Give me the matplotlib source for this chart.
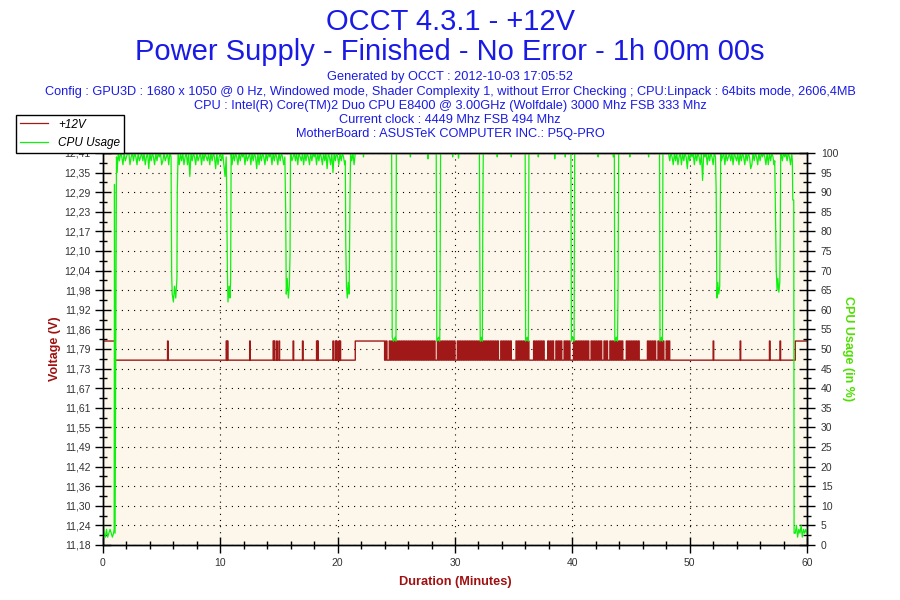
import numpy as np
import matplotlib
matplotlib.use("Agg")
import matplotlib.pyplot as plt
from matplotlib.lines import Line2D

# Report header
title_lines = ["OCCT 4.3.1 - +12V", "Power Supply - Finished - No Error - 1h 00m 00s"]
info_lines = [
    "Generated by OCCT : 2012-10-03 17:05:52",
    "Config : GPU3D : 1680 x 1050 @ 0 Hz, Windowed mode, Shader Complexity 1, without Error Checking ; CPU:Linpack : 64bits mode, 2606,4MB",
    "CPU : Intel(R) Core(TM)2 Duo CPU E8400 @ 3.00GHz (Wolfdale) 3000 Mhz FSB 333 Mhz",
    "Current clock : 4449 Mhz FSB 494 Mhz",
    "MotherBoard : ASUSTeK COMPUTER INC.: P5Q-PRO",
]

# Axis ticks
volt_ticklabels = ["11,18", "11,24", "11,30", "11,36", "11,42", "11,49", "11,55",
                   "11,61", "11,67", "11,73", "11,79", "11,86", "11,92", "11,98",
                   "12,04", "12,10", "12,17", "12,23", "12,29", "12,35", "12,41"]
volt_min, volt_max = 11.18, 12.41
cpu_ticks = list(range(0, 101, 5))
x_ticks = [0, 10, 20, 30, 40, 50, 60]

# +12V rail
volt_low, volt_high = 11.76, 11.82
volt_high_spans = [(0.0, 1.0), (21.5, 24.0), (59.0, 60.0)]
volt_spikes = [5.5, 10.5, 10.6, 12.5, 14.5, 14.6, 14.8, 15.0, 16.2, 17.0, 18.2, 18.3,
               19.6, 19.8, 19.9, 20.1, 20.2, 52.0, 54.3, 56.8, 57.7]
# state every 0.1 min while the rail toggles (H = 11.82, L = 11.76)
volt_dense_start = 24.0
volt_dense = ("LHLLHLHLHL" "HLHLHLHLHL" "HLHLHLHLHL" "HLHLHLHLHL" "HLHLLHLHLH"
              "LHLHLHLHLH" "LLHLHLHLHL" "HLHLHLHLHL" "HLHLHLHLHL" "HLHLHLHLLH"
              "LHLHLHLHLL" "LLHLHLHLHL" "HLHLLLLHLH" "LHLHLHLLLH" "LHLHLLHLHL"
              "HLLHLHLHLL" "LHLHLHLHLH" "LHLHLLHLHL" "HLHLHLLHLH" "LLHLHLHLHL"
              "HLHLLLHLHL" "HLHLHLHLLL" "LLLLHLHLHL" "HLLHLHLHLL" "HLH")

# CPU usage (%)
cpu_idle_start = [7, 3, 2, 4, 2, 3, 4, 3, 2, 3]          # 0.0 .. 0.9 min
cpu_ramp_t = [0.95, 0.98, 1.03, 1.15]
cpu_ramp_v = [4, 92, 3, 99]
# drop below 100 % every 0.1 min, '-' where a dip is drawn instead
cpu_noise_a_start = 1.2
cpu_noise_a = ("5020130210" "0310201302" "1020310402" "0130201032" "021030----"
               "---3020310" "3060201302" "1030201203" "0201403102" "036-----30"
               "2013020103" "0210302014" "0302013020" "1030201302" "013-----02"
               "1020301203" "0201302010" "3020130204" "0130502013" "02013-----"
               "203")
cpu_noise_c_start = 48.3
cpu_noise_c = ("2013020310" "3020140201" "0302013070" "103020130-" "----210302"
               "1020301203" "0201302014" "3020130201" "0130302013" "-----02010"
               "20130")
cpu_dip_t = [5.8, 5.85, 5.9, 6.0, 6.1, 6.2, 6.3, 6.33, 6.4,
             10.5, 10.54, 10.6, 10.65, 10.75, 10.82, 10.88, 10.92,
             15.5, 15.57, 15.62, 15.7, 15.8, 15.88, 15.94, 15.98,
             20.65, 20.69, 20.75, 20.82, 20.9, 20.98, 21.05, 21.1,
             24.6, 24.65, 24.75, 24.9, 24.97, 25.0,
             28.4, 28.45, 28.6, 28.7, 28.73, 28.77,
             32.08, 32.1, 32.15, 32.25, 32.33, 32.37, 32.41,
             35.98, 36.02, 36.15, 36.25, 36.3,
             39.88, 39.92, 40.05, 40.15, 40.2,
             43.58, 43.62, 43.75, 43.85, 43.9, 43.95,
             47.43, 47.47, 47.6, 47.68, 47.72,
             52.2, 52.26, 52.32, 52.4, 52.48, 52.56, 52.65,
             57.25, 57.32, 57.38, 57.45, 57.52, 57.6, 57.68, 57.72, 57.76]
cpu_dip_v = [99, 69, 64, 62, 66, 63, 68, 90, 100,
             99, 91, 70, 62, 66, 63, 68, 100,
             99, 85, 64, 68, 63, 66, 74, 100,
             98, 77, 66, 63, 67, 64, 88, 100,
             100, 53, 52, 53, 52, 100,
             100, 52, 53, 52, 67, 100,
             100, 82, 52, 53, 52, 84, 100,
             100, 52, 53, 52, 100,
             100, 52, 53, 52, 100,
             100, 52, 53, 52, 67, 100,
             100, 52, 53, 52, 100,
             99, 90, 63, 67, 64, 66, 100,
             98, 82, 70, 65, 68, 64.5, 67, 78, 100]
cpu_flat_t = [21.5, 48.2]
cpu_flat_v = [100, 100]
cpu_tick_t = [22.2, 26.2, 27.7, 29.8, 30.3, 33.6, 34.8, 37.1, 38.5, 39.4, 42.2, 43.5, 44.9, 46.5]
cpu_tick_v = [99, 99, 98.5, 99, 98.7, 99, 99, 99, 98.5, 99, 99, 99, 99, 99]
cpu_end_t = [58.75, 58.79, 58.87, 58.9]
cpu_end_v = [98, 88, 88, 3]
cpu_idle_end = [3, 5, 2, 4, 3, 5, 2, 4, 3, 4, 3]        # 59.0 .. 60.0 min

volt_colour = "#a01818"
cpu_colour = "#10f010"
text_blue = "#1a1ae6"
plt.rcParams["font.family"] = ["Liberation Sans", "DejaVu Sans"]

# --- voltage series on a 0.05 min grid
step = 0.05
vt = np.round(np.arange(int(60 / step) + 1) * step, 2)
vv = np.full(vt.shape, volt_low)
for a, b in volt_high_spans:
    vv[(vt >= a - 1e-6) & (vt < b - 1e-6)] = volt_high
for s in volt_spikes:
    vv[int(round(s / step))] = volt_high
i0 = int(round(volt_dense_start / step))
for j, c in enumerate(volt_dense):
    vv[i0 + 2 * j:i0 + 2 * j + 2] = volt_high if c == "H" else volt_low
vv[-1] = vv[-2]

# --- CPU series
def noise_points(start, pattern):
    ts, vs = [], []
    for i, c in enumerate(pattern):
        if c != "-":
            ts.append(start + 0.1 * i)
            vs.append(100 - int(c))
    return ts, vs

ct, cv = [], []
ct += [0.1 * i for i in range(len(cpu_idle_start))]
cv += cpu_idle_start
ct += cpu_ramp_t
cv += cpu_ramp_v
for start, pat in [(cpu_noise_a_start, cpu_noise_a), (cpu_noise_c_start, cpu_noise_c)]:
    ts, vs = noise_points(start, pat)
    ct += ts
    cv += vs
ct += cpu_dip_t
cv += cpu_dip_v
ct += cpu_flat_t
cv += cpu_flat_v
for t, v in zip(cpu_tick_t, cpu_tick_v):
    ct += [t - 0.03, t, t + 0.03]
    cv += [100, v, 100]
ct += cpu_end_t
cv += cpu_end_v
ct += [59.0 + 0.1 * i for i in range(len(cpu_idle_end))]
cv += cpu_idle_end
ct = np.array(ct)
cv = np.array(cv, dtype=float)
order = np.argsort(ct, kind="stable")
ct, cv = ct[order], cv[order]

# --- figure
fig = plt.figure(figsize=(9, 6), dpi=100)
ax = fig.add_axes([103 / 900, 55 / 600, 704 / 900, 392 / 600])
ax.set_facecolor("#fcf7ea")
ax2 = ax.twinx()

ax.plot(vt, vv, drawstyle="steps-post", color=volt_colour, linewidth=1.0)
ax2.plot(ct, cv, color=cpu_colour, linewidth=0.9)

ax.set_xlim(0, 60)
ax.set_ylim(volt_min, volt_max)
ax2.set_ylim(0, 100)

vticks = np.linspace(volt_min, volt_max, len(volt_ticklabels))
ax.set_yticks(vticks)
ax.set_yticklabels(volt_ticklabels)
ax.set_yticks((vticks[:-1] + vticks[1:]) / 2, minor=True)
ax.set_xticks(x_ticks)
ax.set_xticks(np.arange(0, 61, 2), minor=True)
ax2.set_yticks(cpu_ticks)
ax2.set_yticks(np.arange(2.5, 100, 5), minor=True)

for a in (ax, ax2):
    a.tick_params(which="major", direction="inout", length=12, width=1.0, colors="black",
                  labelcolor="#333333", labelsize=7.5)
    a.tick_params(which="minor", direction="inout", length=6, width=1.0, colors="black")
    for sp in a.spines.values():
        sp.set_linewidth(1.0)
ax.tick_params(axis="y", pad=3)
ax.tick_params(axis="x", pad=3)
ax2.tick_params(axis="y", pad=4)

ax.grid(True, which="major", color="black", linestyle=(0, (1, 4.5)), linewidth=0.8)
ax.set_axisbelow(True)

ax.set_xlabel("Duration (Minutes)", color="#a01010", fontsize=9.2, fontweight="bold")
ax.xaxis.set_label_coords(0.5, -0.08)
ax.set_ylabel("Voltage (V)", color="#a01010", fontsize=9, fontweight="bold")
ax.yaxis.set_label_coords(-0.06, 0.5)
ax2.set_ylabel("CPU Usage (in %)", color="#4ee000", fontsize=9, fontweight="bold",
               rotation=270, va="center")
ax2.yaxis.set_label_coords(1.058, 0.5)

# header text
fig.text(0.5, 1 - 22 / 600, title_lines[0], ha="center", va="center", color=text_blue, fontsize=21)
fig.text(0.5, 1 - 52 / 600, title_lines[1], ha="center", va="center", color=text_blue, fontsize=21)
for k, line in enumerate(info_lines):
    y = [77, 92, 106, 120, 134][k]
    fig.text(0.5, 1 - y / 600, line, ha="center", va="center", color=text_blue, fontsize=9.2)

handles = [Line2D([], [], color=volt_colour, linewidth=0.9),
           Line2D([], [], color=cpu_colour, linewidth=0.9)]
leg = fig.legend(handles, ["+12V", "CPU Usage"], loc="upper left",
                 bbox_to_anchor=(16 / 900, 1 - 115 / 600), borderaxespad=0,
                 frameon=True, fancybox=False, edgecolor="black", framealpha=1,
                 prop={"style": "italic", "size": 8.5}, handlelength=2.4,
                 handletextpad=0.9, borderpad=0.3, labelspacing=0.55)
leg.get_frame().set_linewidth(1.0)

fig.savefig("out.png", dpi=100, facecolor="white")
plt.close(fig)
